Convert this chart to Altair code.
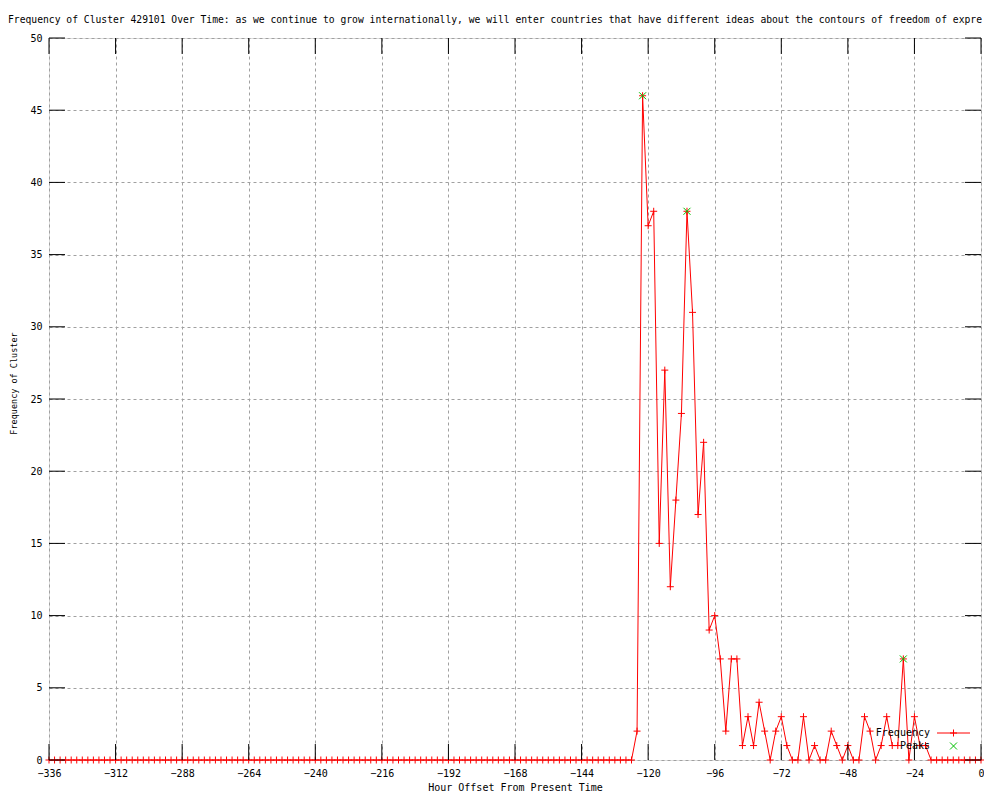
import altair as alt
import pandas as pd

# ---------------- data ----------------
hours = list(range(-336, 1, 2))
freq_before = [0] * 106          # -336 .. -126
freq_active = [2, 46, 37, 38, 15, 27, 12, 18, 24, 38,
               31, 17, 22, 9, 10, 7, 2, 7, 7, 1,
               3, 1, 4, 2, 0, 2, 3, 1, 0, 0,
               3, 0, 1, 0, 0, 2, 1, 0, 1, 0,
               0, 3, 2, 0, 1, 3, 1, 1, 7, 0,
               3, 1, 1]          # -124 .. -20
freq_after = [0] * 10            # -18 .. 0
freq = freq_before + freq_active + freq_after

peak_hours = [-122, -106, -28]
peak_values = [46, 38, 7]

x_ticks = [-336, -312, -288, -264, -240, -216, -192, -168, -144, -120, -96, -72, -48, -24, 0]
y_ticks = [0, 5, 10, 15, 20, 25, 30, 35, 40, 45, 50]

legend_labels = ["Frequency", "Peaks"]

title_text = ("Frequency of Cluster 429101 Over Time: as we continue to grow internationally, "
              "we will enter countries that have different ideas about the contours of freedom of expre")

# ---------------- styling ----------------
W, H = 932, 722
MONO = "DejaVu Sans Mono"
RED = "#ff0000"
GREEN = "#00c000"
TICK = 16
PLUS = "M-1,0L1,0M0,-1L0,1"
CROSS = "M-1,-1L1,1M-1,1L1,-1"

xs = alt.Scale(domain=[-336, 0], nice=False, zero=False)
ys = alt.Scale(domain=[0, 50], nice=False, zero=False)

df = pd.DataFrame({"hour": hours, "freq": freq})
peaks = pd.DataFrame({"hour": peak_hours, "freq": peak_values})
xt = pd.DataFrame({"hour": x_ticks})
yt = pd.DataFrame({"freq": y_ticks})
dummy = pd.DataFrame({"a": [0]})

x_axis = alt.Axis(values=x_ticks, title="Hour Offset From Present Time", grid=True,
                  gridColor="#a0a0a0", gridDash=[3, 3], gridWidth=1, domain=False,
                  ticks=False, tickSize=0, labelPadding=8, labelFlush=False,
                  labelOverlap=False, labelFont=MONO, labelFontSize=10, labelColor="black",
                  titleFont=MONO, titleFontSize=10, titleFontWeight="normal",
                  titleColor="black", titleX=466, titleY=27, titleBaseline="middle",
                  titleAlign="center")
y_axis = alt.Axis(values=y_ticks, title="Frequency of Cluster", grid=True,
                  gridColor="#a0a0a0", gridDash=[3, 3], gridWidth=1, domain=False,
                  ticks=False, tickSize=0, labelPadding=7, labelFlush=False,
                  labelOverlap=False, labelFont=MONO, labelFontSize=10, labelColor="black",
                  titleFont=MONO, titleFontSize=8.5, titleFontWeight="normal",
                  titleColor="black", titleX=-36, titleY=345, titleBaseline="middle",
                  titleAlign="center", titleAngle=270)

line = alt.Chart(df).mark_line(color=RED, strokeWidth=1).encode(
    x=alt.X("hour:Q", scale=xs, axis=x_axis),
    y=alt.Y("freq:Q", scale=ys, axis=y_axis),
)

pts = alt.Chart(df).mark_point(shape=PLUS, filled=False, stroke=RED, strokeWidth=1,
                               size=49, opacity=1).encode(
    x=alt.X("hour:Q", scale=xs),
    y=alt.Y("freq:Q", scale=ys),
)

peak_pts = alt.Chart(peaks).mark_point(shape=CROSS, filled=False, stroke=GREEN,
                                       strokeWidth=1, size=49, opacity=1).encode(
    x=alt.X("hour:Q", scale=xs),
    y=alt.Y("freq:Q", scale=ys),
)

tick_bottom = alt.Chart(xt).mark_rule(color="black", strokeWidth=1).encode(
    x=alt.X("hour:Q", scale=xs), y=alt.value(H), y2=alt.value(H - TICK))
tick_top = alt.Chart(xt).mark_rule(color="black", strokeWidth=1).encode(
    x=alt.X("hour:Q", scale=xs), y=alt.value(0), y2=alt.value(TICK))
tick_left = alt.Chart(yt).mark_rule(color="black", strokeWidth=1).encode(
    y=alt.Y("freq:Q", scale=ys), x=alt.value(0), x2=alt.value(TICK))
tick_right = alt.Chart(yt).mark_rule(color="black", strokeWidth=1).encode(
    y=alt.Y("freq:Q", scale=ys), x=alt.value(W - TICK), x2=alt.value(W))

# legend (gnuplot style, inside plot, bottom right)
leg_txt1 = alt.Chart(dummy).mark_text(text=legend_labels[0], align="right", baseline="middle",
                                      font=MONO, fontSize=10, color="black").encode(
    x=alt.value(881), y=alt.value(695))
leg_txt2 = alt.Chart(dummy).mark_text(text=legend_labels[1], align="right", baseline="middle",
                                      font=MONO, fontSize=10, color="black").encode(
    x=alt.value(881), y=alt.value(708))
leg_line = alt.Chart(dummy).mark_rule(color=RED, strokeWidth=1).encode(
    x=alt.value(888), x2=alt.value(921), y=alt.value(695))
leg_plus = alt.Chart(dummy).mark_point(shape=PLUS, filled=False, stroke=RED, strokeWidth=1,
                                       size=49, opacity=1).encode(
    x=alt.value(904.5), y=alt.value(695))
leg_cross = alt.Chart(dummy).mark_point(shape=CROSS, filled=False, stroke=GREEN, strokeWidth=1,
                                        size=49, opacity=1).encode(
    x=alt.value(904.5), y=alt.value(708))

chart = alt.layer(
    line, pts, peak_pts, tick_bottom, tick_top, tick_left, tick_right,
    leg_line, leg_plus, leg_cross, leg_txt1, leg_txt2,
).properties(
    width=W, height=H,
    autosize=alt.AutoSizeParams(type="none"),
    padding={"left": 41, "top": 30, "right": 3, "bottom": 32},
    title=alt.TitleParams(text=title_text, anchor="start", frame="group", dx=-41, dy=10,
                          offset=10, font=MONO, fontSize=9.7, fontWeight="normal",
                          color="black", baseline="alphabetic"),
).configure_view(stroke="black", strokeWidth=1).configure(background="white")

chart.save("out.html", embed_options={"renderer": "svg", "actions": False})
